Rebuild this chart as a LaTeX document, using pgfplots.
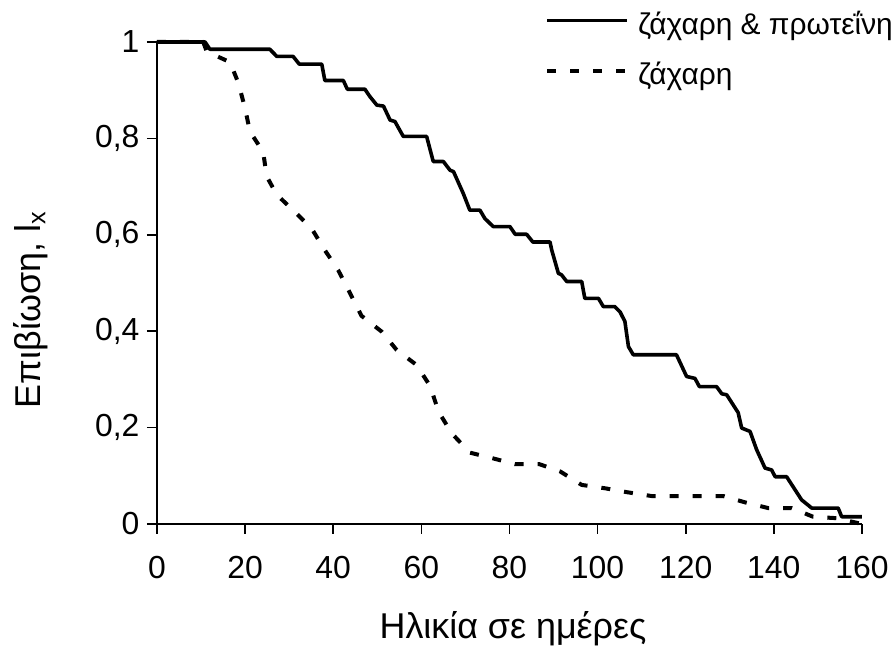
\documentclass[border=0pt]{standalone}
\usepackage{fontspec}
\setmainfont{Liberation Sans}
\usepackage{pgfplots}
\pgfplotsset{compat=1.18}
\begin{document}
\begin{tikzpicture}
\begin{axis}[
  width=705bp, height=482bp, scale only axis,
  xmin=0, xmax=160, ymin=0, ymax=1,
  clip=false,
  axis x line*=bottom, axis y line*=left,
  axis line style={line width=1.6bp, -},
  xtick={0,20,40,60,80,100,120,140,160},
  ytick={0,0.2,0.4,0.6,0.8,1},
  tick align=outside, major tick length=10bp,
  tick style={line width=1.6bp, black},
  /pgf/number format/assume math mode=true,
  /pgf/number format/use comma,
  tick label style={font=\fontsize{32}{36}\selectfont},
  xticklabel style={yshift=-19bp},
  yticklabel style={xshift=-4bp},
  xlabel={Ηλικία σε ημέρες},
  ylabel={Επιβίωση, l\textsubscript{x}},
  label style={font=\fontsize{36}{40}\selectfont},
  xlabel style={at={(axis description cs:0.505,-0.237)}, anchor=base},
  ylabel style={at={(axis description cs:-0.165,0.444)}, anchor=base},
  legend style={at={(axis description cs:0.5504,1.0615)}, anchor=north west,
    draw=none, fill=none, inner sep=0pt, row sep=20bp, column sep=9bp,
    nodes={inner sep=0pt, text height=22bp, text depth=8bp},
    font=\fontsize{30}{34}\selectfont},
  legend cell align=left,
  legend image code/.code={\draw[#1] (0bp,7bp) -- (80bp,7bp);},
]
\addplot[black, line width=3.6bp, line join=round] coordinates {
(0,1) (10.9,1) (12.0,0.985) (25.6,0.985) (27.2,0.970) (30.9,0.970) (32.3,0.954)
(37.4,0.954) (38.1,0.920) (42.3,0.920) (43.2,0.902) (47.2,0.902) (48.3,0.887)
(49.9,0.869) (51.4,0.867) (52.9,0.838) (54.0,0.835) (55.9,0.804) (61.2,0.804)
(62.7,0.752) (65.0,0.752) (66.5,0.734) (67.3,0.731) (69.5,0.686) (71.0,0.651)
(73.3,0.651) (74.4,0.634) (76.3,0.617) (80.1,0.617) (81.3,0.601) (83.9,0.601)
(85.3,0.585) (89.2,0.585) (89.6,0.568) (91.1,0.520) (91.8,0.517) (93.0,0.503)
(96.4,0.503) (97.1,0.468) (100.2,0.468) (101.3,0.451) (103.9,0.451) (105.1,0.440)
(106.2,0.420) (107.0,0.368) (108.1,0.351) (117.9,0.351) (120.2,0.306) (122.1,0.302)
(123.1,0.285) (127.0,0.285) (128.2,0.270) (129.3,0.268) (131.9,0.231) (132.7,0.199)
(134.6,0.192) (136.1,0.154) (138.0,0.116) (139.5,0.112) (140.3,0.098) (142.9,0.098)
(146.3,0.050) (148.6,0.033) (154.6,0.033) (155.4,0.015) (160,0.015)
};
\addlegendentry{ζάχαρη \& πρωτεΐνη}
\addplot[black, line width=4bp, dash pattern=on 9bp off 14bp, line join=round] coordinates {
(0,1) (10.5,1) (11.3,0.980) (16.6,0.958) (18.5,0.914) (20.0,0.862) (21.1,0.814)
(24.1,0.772) (24.9,0.721) (27.2,0.683) (31.0,0.650) (35.1,0.613) (38.1,0.568)
(41.1,0.527) (43.8,0.479) (46.4,0.432) (51.0,0.399) (54.4,0.361) (58.9,0.330)
(62.0,0.286) (63.9,0.233) (66.9,0.188) (71.0,0.148) (76.3,0.136) (81.3,0.124)
(86.8,0.124) (91.5,0.109) (96.4,0.081) (101.7,0.074) (106.6,0.066) (112.2,0.058)
(128.5,0.058) (133.4,0.045) (138.7,0.033) (144.0,0.033) (148.9,0.015) (154.2,0.012)
(160,0.0)
};
\addlegendentry{ζάχαρη}
\path (axis cs:-35.63,-0.2656) rectangle (axis cs:167.5,1.0871);
\end{axis}
\end{tikzpicture}
\end{document}
